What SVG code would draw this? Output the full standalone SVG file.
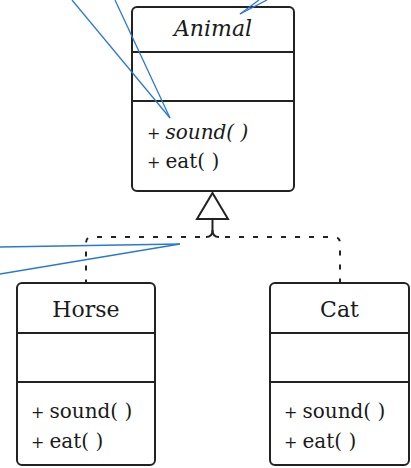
<svg xmlns="http://www.w3.org/2000/svg" width="411" height="468" viewBox="0 0 411 468">
<style>
.box{fill:#fff;stroke:#222;stroke-width:2}
.div{stroke:#222;stroke-width:2}
.t{font-family:"DejaVu Serif","Liberation Serif",serif;fill:#1a1a1a}
.name{font-size:22px;text-anchor:middle}
.m{font-size:20px}
.p{font-size:16px}
.dash{fill:none;stroke:#222;stroke-width:2;stroke-dasharray:5 9}
.solid{fill:none;stroke:#222;stroke-width:2}
.blue{stroke:#2a78d6;stroke-width:1.3;fill:none}
</style>
<rect width="411" height="468" fill="#fff"/>
<g id="connectors">
<path class="solid" d="M212.5,219 V230 Q212.5,237 206,237"/>
<path class="solid" d="M212.5,230 Q212.5,237 219,237"/>
<path class="dash" d="M200,237 H92 Q86,237 86,243 V283"/>
<path class="dash" d="M225,237 H334 Q340,237 340,243 V283"/>
<polygon class="box" points="212.5,193 228,219 197,219"/>
</g>
<g id="Animal">
<rect class="box" x="132" y="7" width="162" height="184" rx="5"/>
<line class="div" x1="132" y1="52" x2="294" y2="52"/>
<line class="div" x1="132" y1="101" x2="294" y2="101"/>
<text class="t name" x="213" y="36" font-style="italic">Animal</text>
<text class="t m" x="147" y="139"><tspan class="p">+ </tspan><tspan font-style="italic">sound( )</tspan></text>
<text class="t m" x="147" y="168"><tspan class="p">+ </tspan>eat( )</text>
</g>
<g id="Horse">
<rect class="box" x="17" y="283" width="138" height="182" rx="5"/>
<line class="div" x1="17" y1="333" x2="155" y2="333"/>
<line class="div" x1="17" y1="382" x2="155" y2="382"/>
<text class="t name" x="86" y="317">Horse</text>
<text class="t m" x="31" y="418"><tspan class="p">+ </tspan>sound( )</text>
<text class="t m" x="31" y="448"><tspan class="p">+ </tspan>eat( )</text>
</g>
<g id="Cat">
<rect class="box" x="270" y="283" width="139" height="182" rx="5"/>
<line class="div" x1="270" y1="333" x2="409" y2="333"/>
<line class="div" x1="270" y1="382" x2="409" y2="382"/>
<text class="t name" x="339.5" y="317">Cat</text>
<text class="t m" x="284" y="418"><tspan class="p">+ </tspan>sound( )</text>
<text class="t m" x="284" y="448"><tspan class="p">+ </tspan>eat( )</text>
</g>
<g id="annotations">
<line class="blue" x1="72" y1="0" x2="170" y2="118"/>
<line class="blue" x1="115" y1="0" x2="170" y2="118"/>
<line class="blue" x1="259" y1="0" x2="240" y2="14"/>
<line class="blue" x1="267" y1="0" x2="240" y2="14"/>
<line class="blue" x1="0" y1="247" x2="180" y2="244"/>
<line class="blue" x1="0" y1="274" x2="180" y2="244"/>
</g>
</svg>
